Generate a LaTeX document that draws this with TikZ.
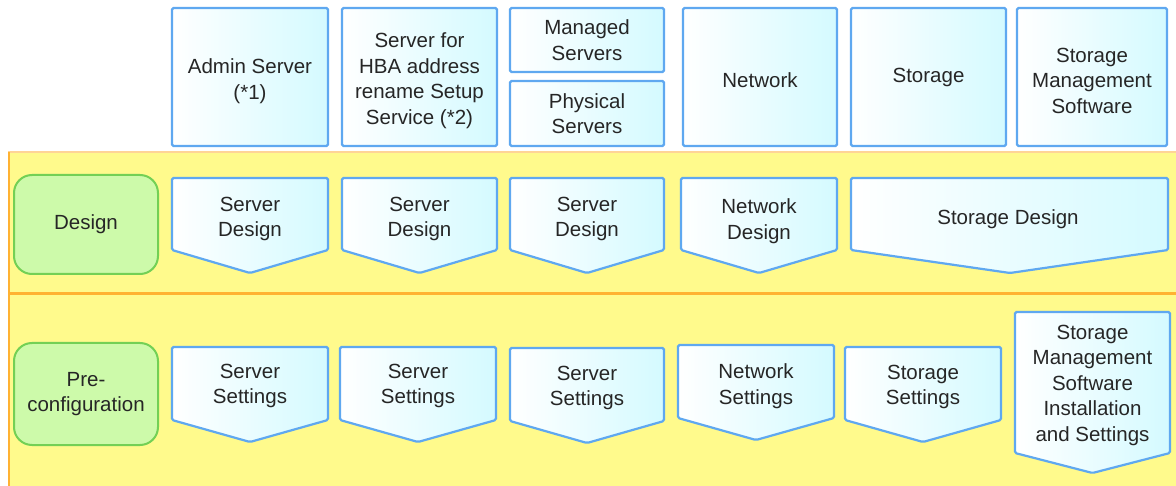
\documentclass[tikz,border=0pt]{standalone}
\usepackage{fontspec}
\setmainfont{Liberation Sans}
\definecolor{boxline}{RGB}{95,168,240}
\definecolor{boxfill}{RGB}{212,250,255}
\definecolor{phaseline}{RGB}{115,208,85}
\definecolor{phasefill}{RGB}{205,250,170}
\definecolor{band}{RGB}{255,250,140}
\definecolor{bandline}{RGB}{255,178,50}
\definecolor{bandtop}{RGB}{255,212,150}

\begin{document}
\begin{tikzpicture}[x=1pt,y=-1pt]
\tikzstyle{every node}=[font=\fontsize{20.5}{25.5}\selectfont,text=black!85,align=center]
\tikzstyle{item}=[draw=boxline,line width=2.2pt,left color=white,right color=boxfill,rounded corners=1.5pt]
\tikzstyle{phase}=[draw=phaseline,line width=2pt,fill=phasefill,rounded corners=18pt]
\useasboundingbox (0,0) rectangle (1176,486);
 % yellow band with its two rows
 \fill[band] (8,152) rectangle (1176,486);
 \draw[bandtop,line width=2pt] (8,152) -- (1176,152);
 \draw[bandline,line width=2pt] (9,152) -- (9,486);
 \draw[bandline,line width=3pt] (8,294) -- (1176,294);
 % top row: what is set up
 \node[item,minimum width=156,minimum height=138] (admin) at (250,77) {\rule{0pt}{23pt}Admin Server\\(*1)};
 \node[item,minimum width=155,minimum height=138] (hba) at (419.5,77) {\rule{0pt}{22pt}Server for\\HBA address\\rename Setup\\Service (*2)};
 \node[item,minimum width=154,minimum height=64]  (managed)  at (587,40)    {Managed\\Servers};
 \node[item,minimum width=154,minimum height=65]  (physical) at (587,113.5) {Physical\\Servers};
 \node[item,minimum width=154,minimum height=138] (network) at (760,77) {\rule{0pt}{21pt}Network};
 \node[item,minimum width=155,minimum height=138] (storage)  at (928.5,77)  {Storage};
 \node[item,minimum width=150,minimum height=138] (smsw) at (1092,77) {\rule{0pt}{22pt}Storage\\Management\\Software};
 % phases
 \node[phase,minimum width=144,minimum height=99]  (design) at (86,224.5) {\raisebox{-3pt}{Design}};
 \node[phase,minimum width=144,minimum height=102] (precfg) at (86,394)   {Pre-\\configuration};
 % design row
 \draw[item] (172,178) -- (328,178) -- (328,250) -- (250,273) -- (172,250) -- cycle;
 \node (sdesign1) at (250,219) {Server\\Design};
 \draw[item] (342,178) -- (497,178) -- (497,250) -- (419.5,273) -- (342,250) -- cycle;
 \node (sdesign2) at (419.5,219) {Server\\Design};
 \draw[item] (510,178) -- (664,178) -- (664,250) -- (587,273) -- (510,250) -- cycle;
 \node (sdesign3) at (587,219) {Server\\Design};
 \draw[item] (681,178) -- (837,178) -- (837,250) -- (759,273) -- (681,250) -- cycle;
 \node (ndesign) at (759,221) {Network\\Design};
 \draw[item] (851,178) -- (1168,178) -- (1168,250) -- (1010,273) -- (851,250) -- cycle;
 \node (stdesign) at (1008,219) {Storage Design};
 % pre-configuration row
 \draw[item] (172,347) -- (328,347) -- (328,420) -- (250,442) -- (172,420) -- cycle;
 \node (sset1) at (250,386) {Server\\Settings};
 \draw[item] (340,347) -- (496,347) -- (496,420) -- (418,442) -- (340,420) -- cycle;
 \node (sset2) at (418,386) {Server\\Settings};
 \draw[item] (510,348) -- (664,348) -- (664,421) -- (587,443) -- (510,421) -- cycle;
 \node (sset3) at (587,388) {Server\\Settings};
 \draw[item] (678,345) -- (834,345) -- (834,418) -- (756,440) -- (678,418) -- cycle;
 \node (nset) at (756,386) {Network\\Settings};
 \draw[item] (845,347) -- (1001,347) -- (1001,420) -- (923,442) -- (845,420) -- cycle;
 \node (stset) at (923,387) {Storage\\Settings};
 \draw[item] (1015,312) -- (1170,312) -- (1170,453) -- (1092.5,473) -- (1015,453) -- cycle;
 \node (smset) at (1092.5,385) {Storage\\Management\\Software\\Installation\\and Settings};
\end{tikzpicture}
\end{document}
